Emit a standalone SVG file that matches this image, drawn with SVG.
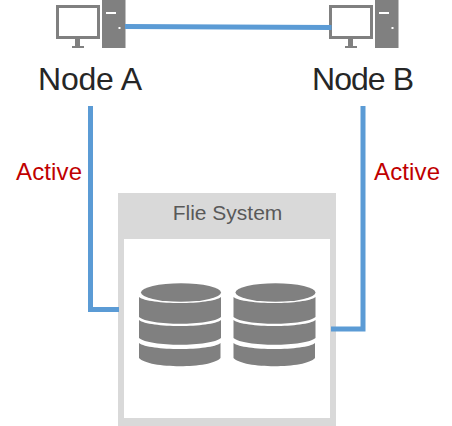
<svg xmlns="http://www.w3.org/2000/svg" width="452" height="426" viewBox="0 0 452 426">
<style>
.g{fill:#808080}
.lbl{font-family:"Liberation Sans",Arial,sans-serif;font-size:32px;fill:#262626}
.act{font-family:"Liberation Sans",Arial,sans-serif;font-size:24px;fill:#c00000}
.c{fill:none;stroke:#5b9bd5;stroke-width:5}
</style>
<defs>
<g id="pc">
<rect x="57.500" y="6.500" width="41" height="31" fill="#fff" stroke="#808080" stroke-width="3"/>
<rect class="g" x="75" y="39" width="5" height="7"/>
<rect class="g" x="72" y="46" width="12" height="2"/>
<rect class="g" x="102" y="0" width="23.500" height="48"/>
<rect x="106" y="12" width="10" height="2" fill="#fff"/>
<rect x="118.500" y="27" width="2" height="2" fill="#fff"/>
</g>
<g id="db">
<ellipse class="g" cx="42" cy="9.500" rx="40" ry="9.300"/>
<path class="g" d="M0 14C10 22 72 22 82 14V34C72 43 10 43 0 34Z"/>
<path class="g" d="M0 37C10 45 72 45 82 37V55C72 64 10 64 0 55Z"/>
<path class="g" d="M0 60C10 68 72 68 81.500 60V75C72 86 10 86 0 75Z"/>
</g>
</defs>
<g id="node-a">
<use href="#pc"/>
<text class="lbl" x="38" y="89.500" textLength="104" lengthAdjust="spacing">Node A</text>
</g>
<g id="node-b">
<use href="#pc" x="273"/>
<text class="lbl" x="312" y="89.500" textLength="102" lengthAdjust="spacing">Node B</text>
</g>
<g id="active-a"><text class="act" x="16" y="180" textLength="66">Active</text></g>
<g id="active-b"><text class="act" x="374" y="180" textLength="66">Active</text></g>
<g id="file-system">
<rect x="118" y="193" width="218" height="233" fill="#d9d9d9"/>
<rect x="124" y="239" width="206" height="179" fill="#fff"/>
<text x="227.500" y="220" text-anchor="middle" font-family="'Liberation Sans',Arial,sans-serif" font-size="21" fill="#595959">Flie System</text>
<use href="#db" x="139" y="283"/>
<use href="#db" x="233.500" y="283"/>
</g>
<g id="connectors">
<path class="c" d="M125 26.500L331.500 27.500"/>
<path class="c" d="M90.500 106V309.500H119"/>
<path class="c" d="M363 106V329H331"/>
</g>
</svg>
